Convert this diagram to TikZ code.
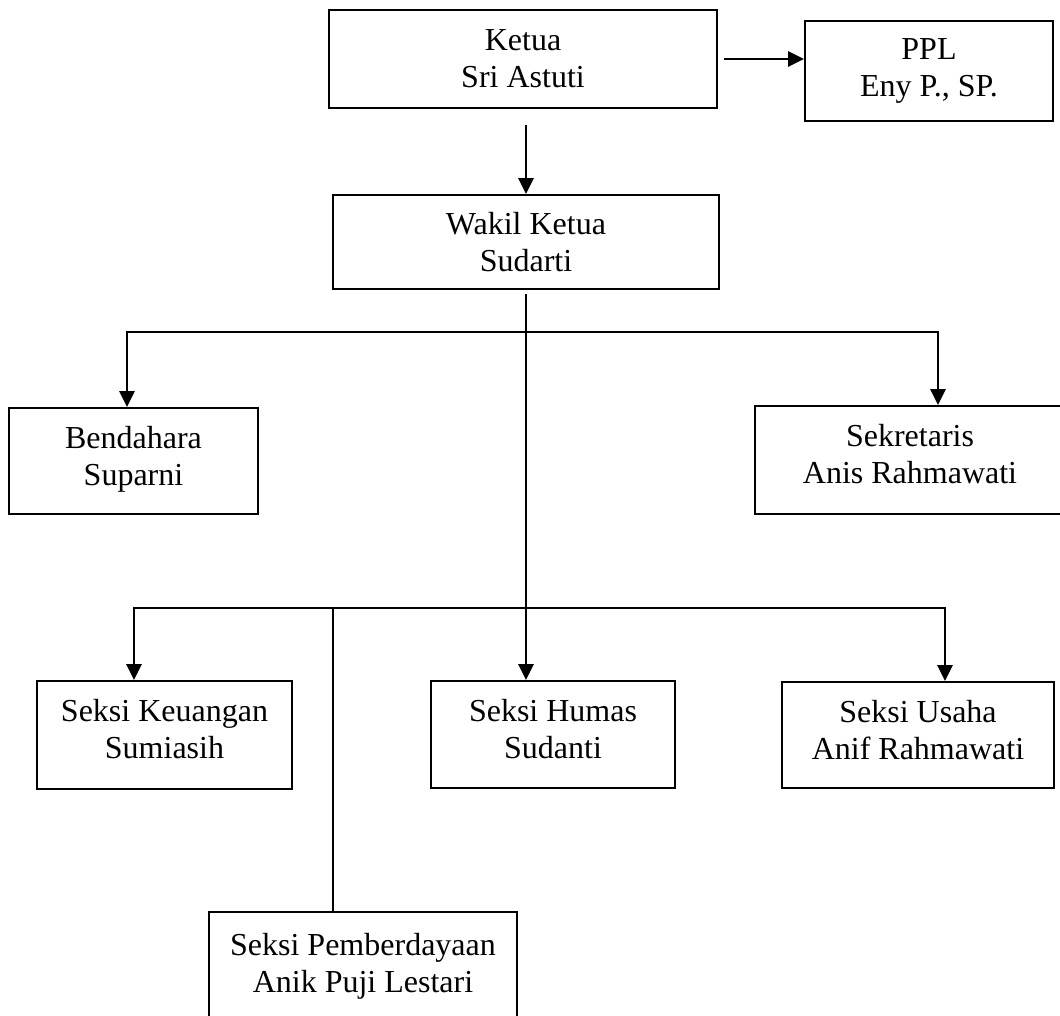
\documentclass[tikz,border=0pt]{standalone}
\usepackage{fontspec}
\setmainfont{Liberation Serif}
\usetikzlibrary{arrows.meta}
\newcommand\dnx[1]{\rule[-#1]{0pt}{#1}}
\begin{document}
\begin{tikzpicture}[x=0.75pt,y=-0.75pt,
  box/.style={draw, line width=1.5pt, rectangle, inner sep=0pt, align=center,
    font=\fontsize{24}{27.6}\selectfont},
  wh/.style 2 args={minimum width=#1*0.75pt, minimum height=#2*0.75pt},
  conn/.style={line width=1.4pt, line join=miter},
  arr/.style={conn, -{Triangle[length=12pt,width=11.5pt]}},
  arrs/.style={conn, {Triangle[length=12pt,width=11.5pt]}-{Triangle[length=12pt,width=11.5pt]}}]
\useasboundingbox (0,0) rectangle (1060,1015);
\fill[white] (0,0) rectangle (1060,1015);
\clip (0,0) rectangle (1060,1015);

% boxes
\node[box, wh={388}{98}]  (ketua) at (523,59)    {Ketua\\Sri Astuti};
\node[box, wh={248}{100}] (ppl)   at (929,71)    {PPL\\Eny P., SP.\dnx{4.5pt}};
\node[box, wh={386}{94}]  (wakil) at (526,242)   {Wakil Ketua\\Sudarti};
\node[box, wh={249}{106}] (bend)  at (133.5,461) {Bendahara\\Suparni\dnx{7.5pt}};
\node[box, wh={310}{108}] (sekr)  at (910,460)   {Sekretaris\\Anis Rahmawati\dnx{9pt}};
\node[box, wh={255}{108}] (keu)   at (164.5,735) {Seksi Keuangan\\Sumiasih\dnx{9pt}};
\node[box, wh={244}{107}] (humas) at (553,734.5) {Seksi Humas\\Sudanti\dnx{9pt}};
\node[box, wh={272}{106}] (usaha) at (918,735)   {Seksi Usaha\\Anif Rahmawati\dnx{8pt}};
\node[box, wh={308}{108}] (pemb)  at (363,966)   {Seksi Pemberdayaan\\Anik Puji Lestari};

% bus coordinates
\coordinate (b1L) at (127,332);
\coordinate (b1R) at (938,332);
\coordinate (b2L) at (134,608);
\coordinate (b2R) at (945,608);
\coordinate (b2M) at (333,608);

% connectors
\draw[arr, shorten <=4.5pt] (ketua.east) -- (ketua.east -| ppl.west);
\draw[arr, shorten <=12pt] (wakil.north |- ketua.south) -- (wakil.north);
\draw[arr, shorten <=3pt] (wakil.south) -- (wakil.south |- humas.north);
\draw[arrs] (b1L |- bend.north) -- (b1L) -- (b1R) -- (b1R |- sekr.north);
\draw[arrs] (b2L |- keu.north) -- (b2L) -- (b2R) -- (b2R |- usaha.north);
\draw[conn] (b2M) -- (b2M |- pemb.north);
\end{tikzpicture}
\end{document}
